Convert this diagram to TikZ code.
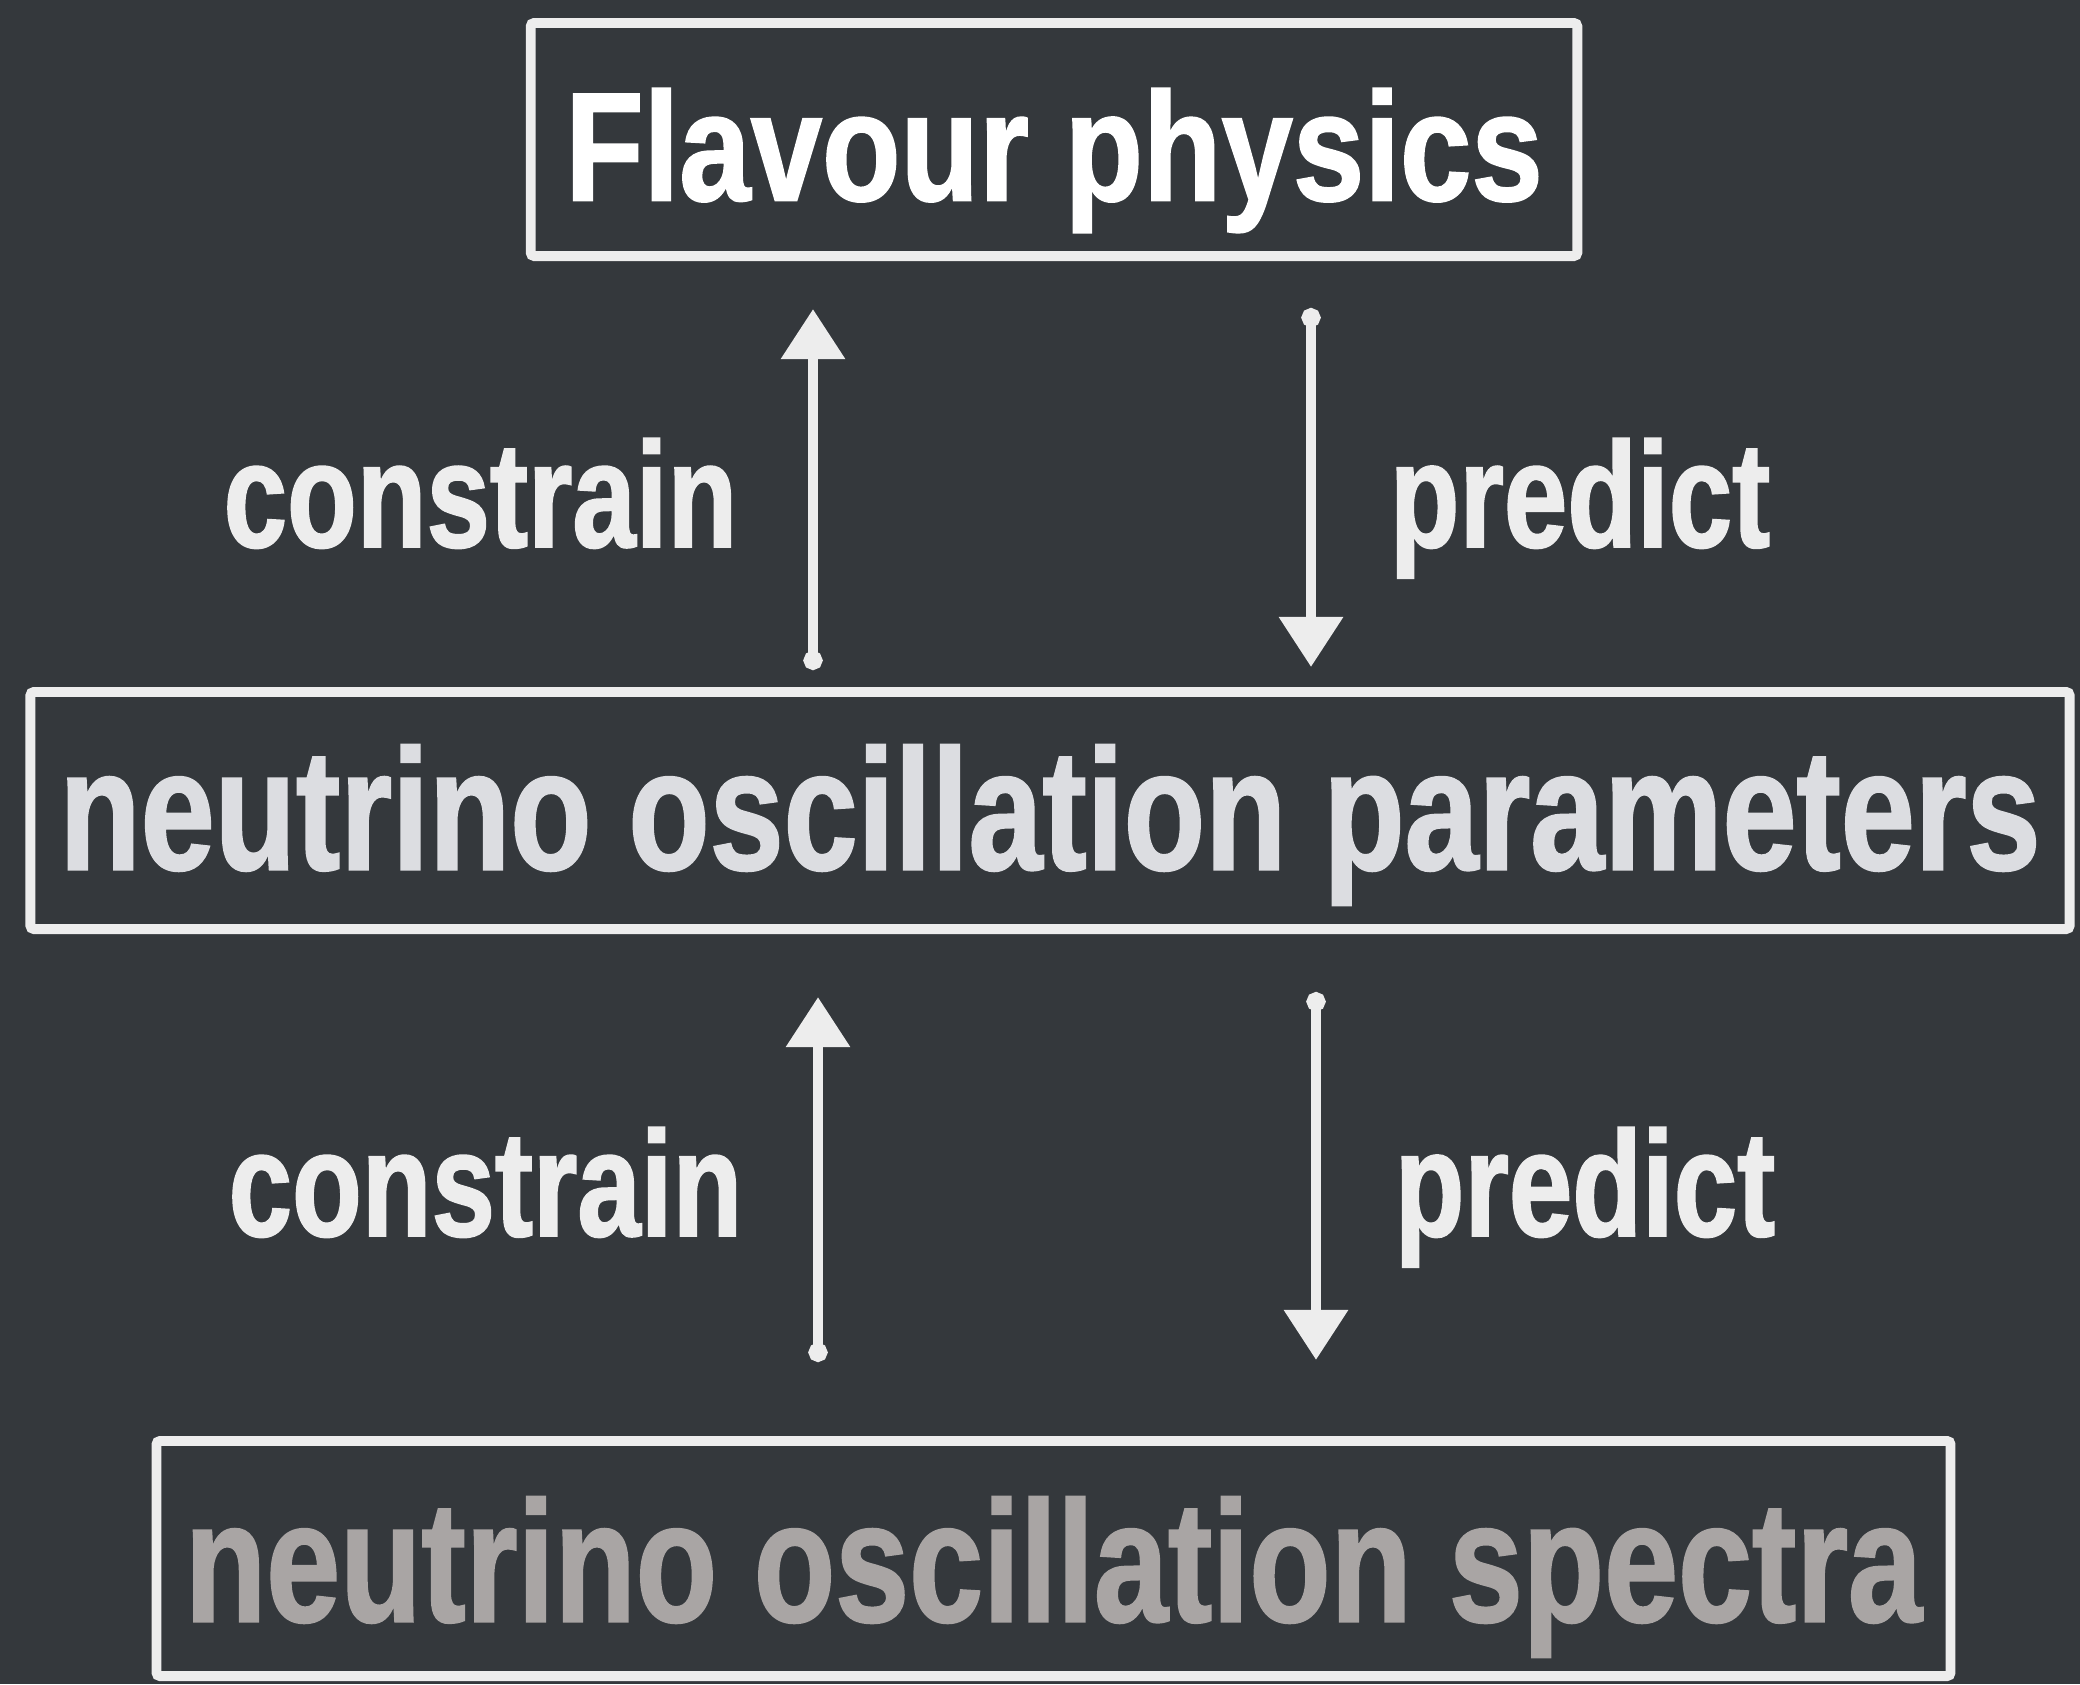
\documentclass[tikz,border=0pt]{standalone}
\usepackage{fontspec}
\setmainfont{Liberation Sans}
\newfontfamily\flavfont{Liberation Sans}[FakeStretch=0.83, FakeBold=1.2]
\newfontfamily\paramfont{Liberation Sans}[FakeStretch=0.772, FakeBold=1.2]
\newfontfamily\labelfont{Liberation Sans}[FakeStretch=0.76, FakeBold=1.2]
\usetikzlibrary{arrows.meta}
\definecolor{bgcol}{HTML}{34383C}
\definecolor{framecol}{HTML}{EDEDED}
\definecolor{flavcol}{HTML}{FFFFFF}
\definecolor{paramcol}{HTML}{DCDDE1}
\definecolor{speccol}{HTML}{A9A5A4}
\definecolor{labelcol}{HTML}{EDEDED}
\tikzset{
  framebox/.style={draw=framecol, line width=2.8pt, outer sep=0pt,
    inner sep=0pt, rounded corners=1pt},
  lbl/.style={text=labelcol, inner sep=0pt,
    font=\labelfont\bfseries\fontsize{42.7}{48}\selectfont},
  flowline/.style={draw=framecol, line width=2.85pt, line cap=round,
    {Circle[length=0.19cm]}-{Triangle[width=0.62cm, length=0.5cm]}},
}

\begin{document}
\begin{tikzpicture}[x=0.01cm, y=-0.01cm]

  % Background.
  \fill[bgcol] (0,0) rectangle (2080,1684);
  \useasboundingbox (0,0) rectangle (2080,1684);

  % Boxes.
  \node[framebox, minimum width=10.46cm, minimum height=2.33cm,
    text height=1.22cm, text depth=0pt, text=flavcol,
    font=\flavfont\bfseries\fontsize{44}{50}\selectfont]
    (flav) at (1054,139.5) {Flavour physics};
  \node[framebox, minimum width=20.38cm, minimum height=2.37cm,
    text height=1.18cm, text depth=0pt, text=paramcol,
    font=\paramfont\bfseries\fontsize{49}{56}\selectfont]
    (params) at (1050,810.5) {neutrino oscillation parameters};
  \node[framebox, minimum width=17.93cm, minimum height=2.35cm,
    text height=1.26cm, text depth=0pt, text=speccol,
    font=\paramfont\bfseries\fontsize{49}{56}\selectfont]
    (spec) at (1053.5,1558.5) {neutrino oscillation spectra};

  % Arrow columns.
  \coordinate (upA) at (813,0);
  \coordinate (downA) at (1311,0);
  \coordinate (upB) at (818,0);
  \coordinate (downB) at (1316,0);

  % Arrows between parameters and flavour physics.
  \draw[flowline, shorten <=0.22cm, shorten >=0.53cm]
    (upA |- params.north) -- (upA |- flav.south);
  \draw[flowline, shorten <=0.52cm, shorten >=0.25cm]
    (downA |- flav.south) -- (downA |- params.north);

  % Arrows between spectra and parameters.
  \draw[flowline, shorten <=0.79cm, shorten >=0.68cm]
    (upB |- spec.north) -- (upB |- params.south);
  \draw[flowline, shorten <=0.63cm, shorten >=0.81cm]
    (downB |- params.south) -- (downB |- spec.north);

  % Labels.
  \node[lbl, anchor=base east] (conA) at (738,547) {constrain};
  \node[lbl, anchor=base west] (preA) at (1389,547) {predict};
  \node[lbl, anchor=base east] (conB) at (743,1236) {constrain};
  \node[lbl, anchor=base west] (preB) at (1394,1236) {predict};

\end{tikzpicture}
\end{document}
